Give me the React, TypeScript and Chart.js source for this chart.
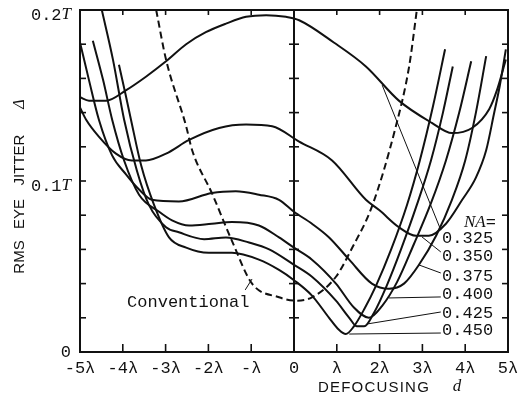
import React, { useEffect, useRef } from "react";
import { Chart, registerables } from "chart.js";

Chart.register(...registerables);

// ---------- data (x in units of λ, y in units of T) ----------
const X_TICKS = [-5, -4, -3, -2, -1, 0, 1, 2, 3, 4, 5];
const X_TICK_LABELS = ["-5λ", "-4λ", "-3λ", "-2λ", "-λ", "0", "λ", "2λ", "3λ", "4λ", "5λ"];
const Y_TICKS = [0, 0.02, 0.04, 0.06, 0.08, 0.1, 0.12, 0.14, 0.16, 0.18, 0.2];
const Y_LABEL_VALUES = [0, 0.1, 0.2];
const Y_LABEL_NUMS = ["0", "0.1", "0.2"];
const Y_LABEL_UNITS = ["", "T", "T"];

const NA_LABELS = ["0.325", "0.350", "0.375", "0.400", "0.425", "0.450"];

const na325X = [-5.0, -4.79, -4.39, -3.93, -3.46, -2.99, -2.52, -2.06, -1.59, -1.12, -0.65, -0.19, 0.12, 0.93, 1.68, 2.45, 3.22, 3.69, 4.16, 4.56, 4.74, 4.95];
const na325Y = [0.149, 0.147, 0.147, 0.153, 0.161, 0.170, 0.180, 0.187, 0.192, 0.196, 0.197, 0.196, 0.194, 0.181, 0.167, 0.147, 0.134, 0.128, 0.131, 0.142, 0.153, 0.171];

const na350X = [-5.0, -4.86, -4.56, -4.16, -3.79, -3.46, -2.99, -2.45, -1.75, -1.12, -0.51, 0.12, 0.89, 1.68, 1.99, 2.45, 2.85, 3.15, 3.55, 3.93, 4.25, 4.49, 4.67, 4.81, 4.95];
const na350Y = [0.143, 0.136, 0.126, 0.116, 0.112, 0.112, 0.116, 0.124, 0.131, 0.133, 0.132, 0.123, 0.112, 0.089, 0.083, 0.073, 0.068, 0.068, 0.075, 0.089, 0.102, 0.118, 0.139, 0.156, 0.177];

const na375X = [-5.0, -4.79, -4.56, -4.25, -3.93, -3.62, -3.32, -2.69, -1.92, -1.36, -0.82, -0.35, 0.0, 0.42, 0.82, 1.29, 1.82, 2.22, 2.57, 2.92, 3.32, 3.69, 4.0, 4.25, 4.49];
const na375Y = [0.181, 0.159, 0.136, 0.115, 0.104, 0.095, 0.089, 0.088, 0.093, 0.094, 0.092, 0.089, 0.082, 0.075, 0.067, 0.054, 0.040, 0.037, 0.040, 0.051, 0.068, 0.089, 0.112, 0.140, 0.173];

const na400X = [-4.7, -4.46, -4.25, -3.97, -3.62, -3.15, -2.85, -2.45, -1.92, -1.45, -0.82, -0.35, 0.0, 0.42, 0.98, 1.4, 1.75, 2.06, 2.41, 2.8, 3.2, 3.55, 3.86, 4.14];
const na400Y = [0.182, 0.159, 0.136, 0.112, 0.092, 0.082, 0.077, 0.074, 0.075, 0.076, 0.074, 0.067, 0.061, 0.054, 0.040, 0.026, 0.020, 0.027, 0.041, 0.063, 0.087, 0.112, 0.140, 0.170];

const na425X = [-4.49, -4.23, -3.97, -3.67, -3.39, -2.99, -2.69, -2.1, -1.59, -1.05, -0.58, 0.0, 0.42, 0.98, 1.29, 1.47, 1.64, 1.87, 2.17, 2.5, 2.87, 3.2, 3.48, 3.71];
const na425Y = [0.2, 0.171, 0.136, 0.106, 0.086, 0.073, 0.070, 0.066, 0.067, 0.064, 0.060, 0.051, 0.044, 0.030, 0.020, 0.015, 0.015, 0.023, 0.039, 0.060, 0.086, 0.112, 0.140, 0.167];

const na450X = [-4.09, -3.93, -3.81, -3.57, -3.27, -2.92, -2.52, -1.99, -1.45, -0.82, -0.35, 0.0, 0.42, 0.82, 1.05, 1.21, 1.4, 1.64, 1.92, 2.27, 2.64, 2.94, 3.25, 3.53];
const na450Y = [0.168, 0.150, 0.136, 0.109, 0.086, 0.067, 0.061, 0.058, 0.058, 0.054, 0.048, 0.042, 0.033, 0.020, 0.013, 0.0105, 0.015, 0.025, 0.039, 0.060, 0.086, 0.112, 0.144, 0.177];

const convX = [-3.22, -2.99, -2.52, -2.38, -1.92, -1.45, -0.98, -0.35, 0.05, 0.42, 0.98, 1.36, 1.82, 2.38, 2.69, 2.87];
const convY = [0.2, 0.171, 0.132, 0.118, 0.093, 0.065, 0.040, 0.032, 0.030, 0.032, 0.044, 0.061, 0.085, 0.132, 0.167, 0.2];

// ---------- annotation anchors (data coordinates) ----------
const LEADER_FROM: [number, number][] = [[2.06, 0.1561], [2.99, 0.0673], [2.92, 0.0509], [2.22, 0.0316], [1.71, 0.0164], [1.29, 0.0105]];
const LEADER_TO: [number, number][] = [[3.43, 0.0713], [3.43, 0.0585], [3.43, 0.0462], [3.43, 0.0322], [3.43, 0.0234], [3.43, 0.0111]];
const LABEL_Y = [0.0661, 0.0556, 0.0444, 0.0339, 0.0228, 0.0123];

const INK = "#111";
const MONO = '17px "Liberation Mono", "DejaVu Sans Mono", monospace';
const SERIF_IT = 'italic 17px "Liberation Serif", "DejaVu Serif", serif';
const SANS = '15px "Liberation Sans", Arial, sans-serif';

function pts(xs: number[], ys: number[]) {
  return xs.map((x, i) => ({ x, y: ys[i] }));
}

function drawRuns(ctx: CanvasRenderingContext2D, runs: [string, string][], x: number, y: number, align: "left" | "right" | "center") {
  let total = 0;
  const widths = runs.map(([t, f]) => {
    ctx.font = f;
    const w = ctx.measureText(t).width;
    total += w;
    return w;
  });
  let cx = align === "right" ? x - total : align === "center" ? x - total / 2 : x;
  ctx.textAlign = "left";
  runs.forEach(([t, f], i) => {
    ctx.font = f;
    ctx.fillText(t, cx, y);
    cx += widths[i];
  });
}

const figurePlugin = {
  id: "figure",
  afterDatasetsDraw(chart: any) {
    const { ctx, chartArea: a, scales } = chart;
    const px = (v: number) => scales.x.getPixelForValue(v);
    const py = (v: number) => scales.y.getPixelForValue(v);
    const seg = (x1: number, y1: number, x2: number, y2: number) => {
      ctx.beginPath();
      ctx.moveTo(x1, y1);
      ctx.lineTo(x2, y2);
      ctx.stroke();
    };
    ctx.save();
    ctx.strokeStyle = INK;
    ctx.fillStyle = INK;
    ctx.lineCap = "butt";

    // frame and centre line
    ctx.lineWidth = 2;
    ctx.strokeRect(a.left, a.top, a.right - a.left, a.bottom - a.top);
    seg(px(0), a.top, px(0), a.bottom);

    // ticks
    ctx.lineWidth = 1.6;
    X_TICKS.forEach((v) => {
      if (v === -5 || v === 5 || v === 0) return;
      const x = px(v);
      seg(x, a.bottom, x, a.bottom - 8);
      seg(x, a.top, x, a.top + 5);
    });
    Y_TICKS.forEach((v) => {
      if (v === 0 || v === 0.2) return;
      const y = py(v);
      seg(a.left, y, a.left + 6, y);
      seg(a.right, y, a.right - 6, y);
      seg(px(0) - 5, y, px(0) + 5, y);
    });

    // tick labels
    ctx.textBaseline = "middle";
    X_TICKS.forEach((v, i) => {
      ctx.font = MONO;
      ctx.textAlign = "center";
      ctx.fillText(X_TICK_LABELS[i], px(v), a.bottom + 16);
    });
    Y_LABEL_VALUES.forEach((v, i) => {
      const runs: [string, string][] = [[Y_LABEL_NUMS[i], MONO]];
      if (Y_LABEL_UNITS[i]) runs.push([Y_LABEL_UNITS[i], SERIF_IT]);
      const y = v === 0 ? py(v) : py(v) + 5;
      drawRuns(ctx, runs, a.left - 9, y, "right");
    });

    // axis titles
    ctx.font = SANS;
    (ctx as any).letterSpacing = "1.2px";
    ctx.textAlign = "left";
    ctx.fillText("DEFOCUSING", 318, a.bottom + 36);
    (ctx as any).letterSpacing = "0px";
    ctx.font = 'italic 17px "Liberation Serif", serif';
    ctx.textAlign = "center";
    ctx.fillText("d", 457, a.bottom + 35);

    ctx.save();
    ctx.translate(20, 0);
    ctx.rotate(-Math.PI / 2);
    ctx.font = SANS;
    ctx.textAlign = "center";
    ctx.fillText("RMS", -257, 0);
    ctx.fillText("EYE", -214, 0);
    ctx.fillText("JITTER", -160, 0);
    ctx.font = 'italic 16px "Liberation Serif", serif';
    ctx.fillText("Δ", -104, 0);
    ctx.restore();

    // NA labels and leaders
    ctx.lineWidth = 1;
    LEADER_FROM.forEach((f, i) => {
      const t = LEADER_TO[i];
      seg(px(f[0]), py(f[1]), px(t[0]), py(t[1]));
    });
    ctx.textBaseline = "middle";
    drawRuns(ctx, [["NA", SERIF_IT], ["=", MONO]], px(3.97), py(0.076), "left");
    NA_LABELS.forEach((lab, i) => {
      ctx.font = MONO;
      ctx.textAlign = "left";
      ctx.fillText(lab, px(3.46), py(LABEL_Y[i]));
    });

    // Conventional label
    seg(px(-0.98), py(0.0427), px(-1.14), py(0.0363));
    ctx.font = MONO;
    ctx.textAlign = "left";
    ctx.fillText("Conventional", px(-3.9), py(0.0292));

    ctx.restore();
  },
};

export default function App() {
  const ref = useRef<HTMLCanvasElement | null>(null);
  useEffect(() => {
    document.body.style.margin = "0";
    const canvas = ref.current;
    if (!canvas) return;
    const solid = (label: string, xs: number[], ys: number[]) => ({
      label,
      data: pts(xs, ys),
      borderColor: INK,
      borderWidth: 2,
      pointRadius: 0,
      fill: false,
      cubicInterpolationMode: "monotone" as const,
    });
    const chart = new Chart(canvas, {
      type: "line",
      data: {
        datasets: [
          solid("NA=0.325", na325X, na325Y),
          solid("NA=0.350", na350X, na350Y),
          solid("NA=0.375", na375X, na375Y),
          solid("NA=0.400", na400X, na400Y),
          solid("NA=0.425", na425X, na425Y),
          solid("NA=0.450", na450X, na450Y),
          { ...solid("Conventional", convX, convY), borderDash: [7, 4] },
        ],
      },
      options: {
        animation: false,
        responsive: false,
        devicePixelRatio: 1,
        layout: { padding: { left: 80, right: 18, top: 10, bottom: 47 } },
        scales: {
          x: { type: "linear", min: -5, max: 5, display: false },
          y: { type: "linear", min: 0, max: 0.2, display: false },
        },
        plugins: { legend: { display: false }, tooltip: { enabled: false } },
      },
      plugins: [figurePlugin],
    });
    return () => chart.destroy();
  }, []);
  return (
    <div style={{ width: 526, height: 399, background: "#fff" }}>
      <canvas ref={ref} width={526} height={399} style={{ display: "block" }} />
    </div>
  );
}
